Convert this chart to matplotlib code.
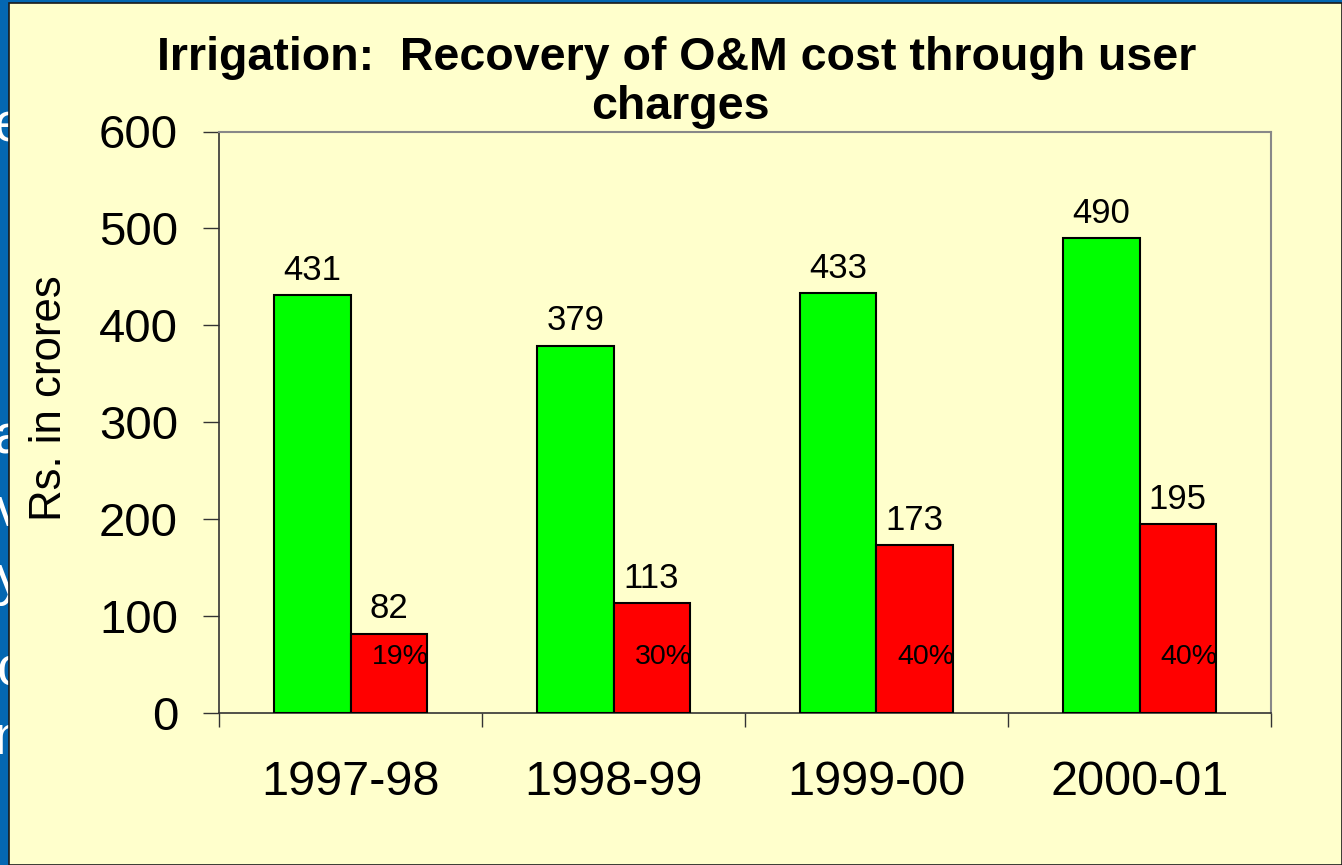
import matplotlib
matplotlib.use("Agg")
import matplotlib.pyplot as plt
from matplotlib.patches import Rectangle
import numpy as np

# ---- data ----
categories = ["1997-98", "1998-99", "1999-00", "2000-01"]
om_cost = [431, 379, 433, 490]
user_charges = [82, 113, 173, 195]
recovery_pct = ["19%", "30%", "40%", "40%"]
y_ticks = [0, 100, 200, 300, 400, 500, 600]

title_lines = ["Irrigation:  Recovery of O&M cost through user", "charges"]
ylabel = "Rs. in crores"

# ---- figure ----
W, H = 1342, 865
fig = plt.figure(figsize=(W / 100, H / 100), dpi=100)
fig.patch.set_facecolor("#0467B2")
plt.rcParams["font.family"] = ["Liberation Sans", "DejaVu Sans"]

# white fragments of the slide text behind the panel
frag = [("e", 128), ("t", 180), ("r", 268), ("a", 440), ("v", 512), ("y", 580),
        ("c", 672), ("n", 740), ("r", 838)]
for ch, yp in frag:
    fig.text(24 / W, 1 - yp / H, ch, color="white", fontsize=40,
             ha="right", va="center", zorder=0.2)

# pale yellow panel
panel = Rectangle((9 / W, 0), 1 - 9 / W, 1 - 3 / H, transform=fig.transFigure,
                  facecolor="#FFFFCC", edgecolor="#1a1a1a", linewidth=1.2, zorder=0.5)
fig.patches.append(panel)

left, right, top, bottom = 219, 1271, 131.5, 713
ax = fig.add_axes([left / W, 1 - bottom / H, (right - left) / W, (bottom - top) / H])
ax.set_zorder(2)
ax.set_facecolor("#FFFFCC")

x = np.arange(len(categories))
bw = 0.289
ax.bar(x - bw / 2, om_cost, bw, color="#00FF00", edgecolor="black", linewidth=1.5, zorder=3)
ax.bar(x + bw / 2, user_charges, bw, color="#FF0000", edgecolor="black", linewidth=1.5, zorder=3)

for i in range(len(categories)):
    ax.annotate(str(om_cost[i]), (x[i] - bw / 2, om_cost[i]), xytext=(0, 6),
                textcoords="offset points", ha="center", va="bottom", fontsize=25)
    ax.annotate(str(user_charges[i]), (x[i] + bw / 2, user_charges[i]), xytext=(0, 6),
                textcoords="offset points", ha="center", va="bottom", fontsize=25)
    ax.text(x[i] + bw / 2 + 0.045, 58, recovery_pct[i], ha="center", va="center", fontsize=20.5)

ax.set_xlim(-0.5, len(categories) - 0.5)
ax.set_ylim(0, 600)
ax.set_yticks(y_ticks)
ax.set_yticklabels([str(v) for v in y_ticks], fontsize=34)
ax.set_xticks(np.arange(len(categories) + 1) - 0.5)
ax.set_xticklabels([])
ax.set_xticks(x, minor=True)
ax.set_xticklabels(categories, minor=True, fontsize=35)
ax.tick_params(axis="x", which="minor", length=0, pad=34)
ax.tick_params(axis="x", which="major", length=10, width=1, color="#333333", direction="out")
ax.tick_params(axis="y", length=11.5, width=1, color="#333333", direction="out", pad=18)

for s in ["top", "right"]:
    ax.spines[s].set_color("#888888")
    ax.spines[s].set_linewidth(1.5)
for s in ["left", "bottom"]:
    ax.spines[s].set_color("#333333")
    ax.spines[s].set_linewidth(1.2)

fig.text(50 / W, 1 - 398 / H, ylabel, rotation=90, ha="center", va="center",
         fontsize=31.5, zorder=3)
fig.text(677 / W, 1 - 58 / H, title_lines[0], ha="center", va="center", fontsize=33.5,
         fontweight="bold", zorder=3)
fig.text(680 / W, 1 - 107 / H, title_lines[1], ha="center", va="center", fontsize=33.5,
         fontweight="bold", zorder=3)

fig.savefig("out.png", dpi=100, facecolor=fig.get_facecolor())
